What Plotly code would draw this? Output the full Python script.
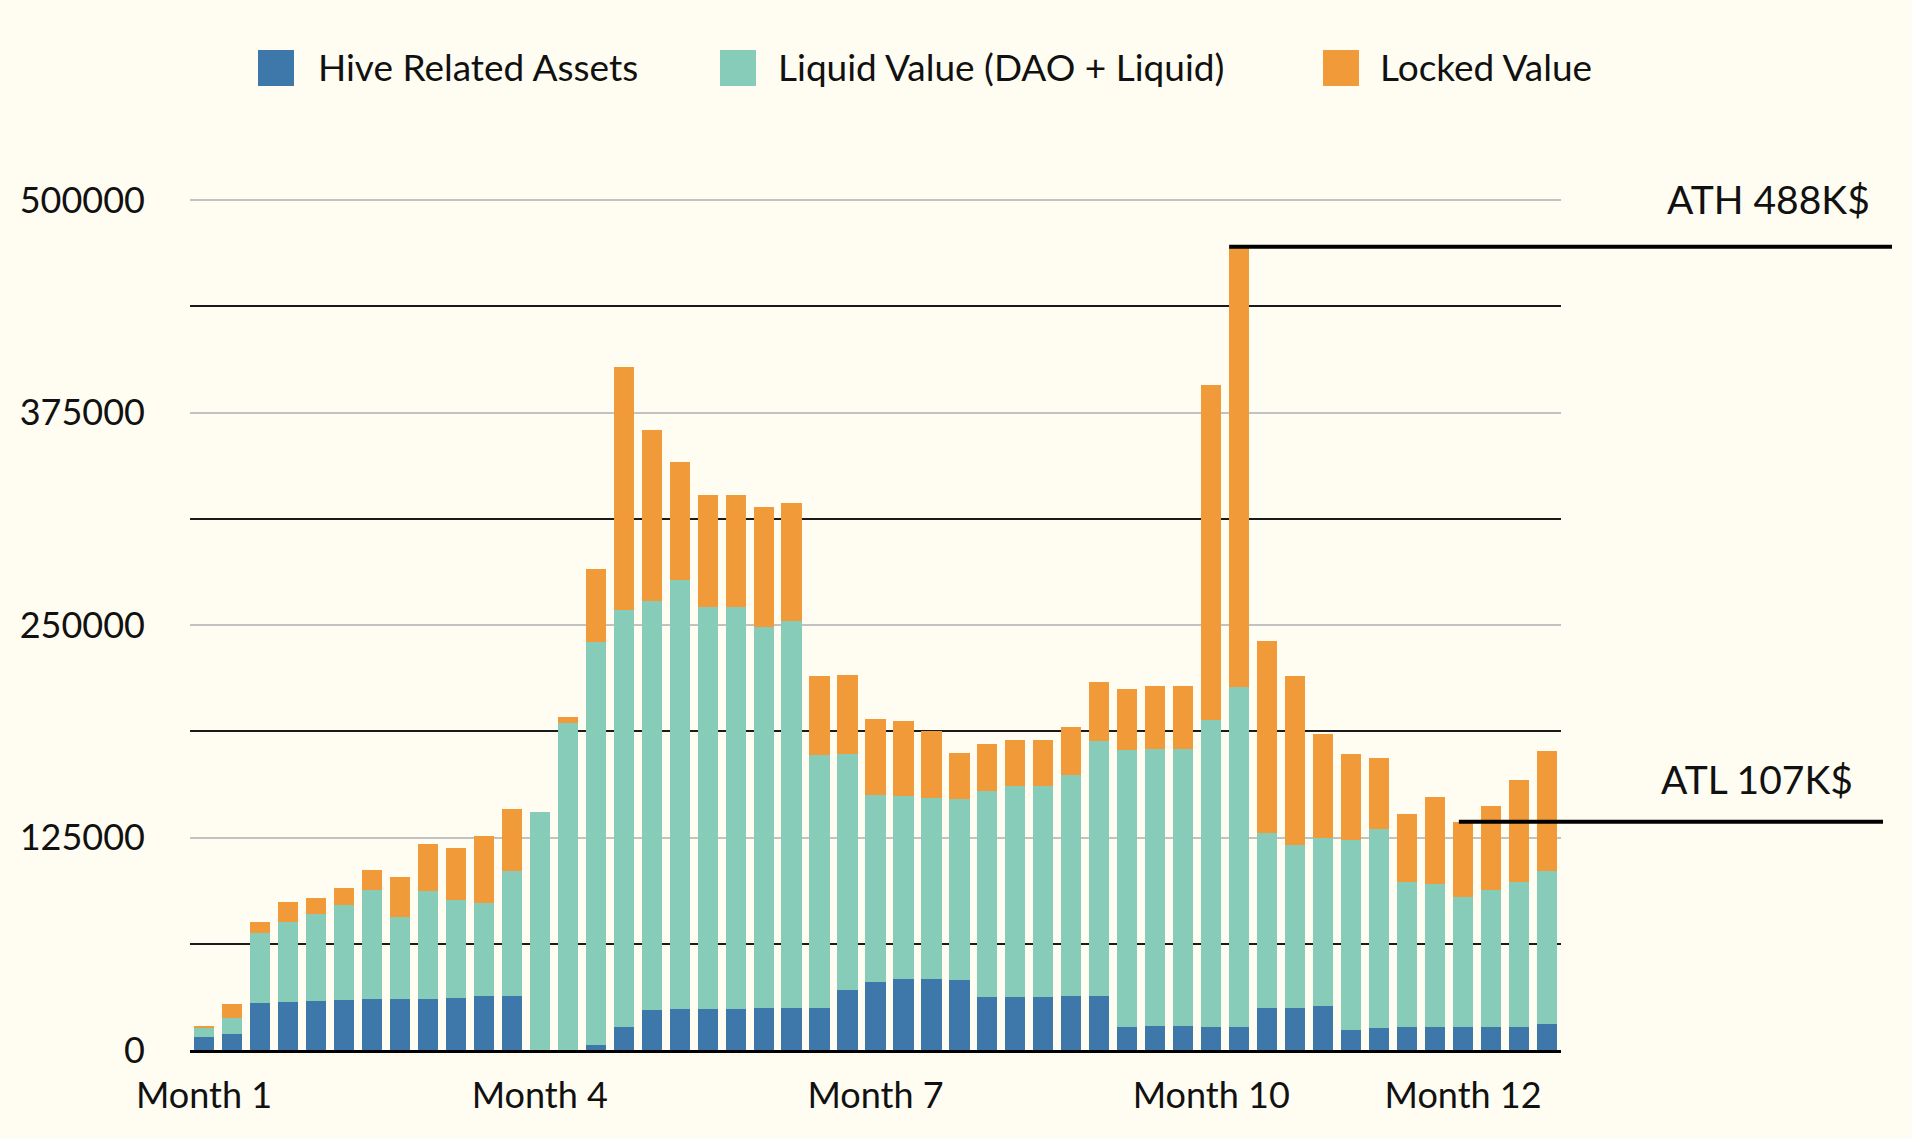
import plotly.graph_objects as go

# ---------------- data ----------------
series_names = ["Hive Related Assets", "Liquid Value (DAO + Liquid)", "Locked Value"]
series_colors = ["#3e78ab", "#86ccb9", "#f09a3a"]

week_index = list(range(49))

hive_assets = [7500, 9400, 27600, 28100, 28700, 29200, 30000, 30000, 30000, 30600,
               31600, 31600, 0, 0, 2700, 13500, 23500, 24100, 24100, 24100,
               24600, 24600, 24600, 35200, 40000, 41700, 41700, 41100, 31100, 31100,
               31100, 31600, 31600, 13500, 14100, 14100, 13500, 13500, 24600, 24600,
               25700, 11600, 13000, 13500, 13500, 13500, 13500, 13500, 15100]

liquid_value = [5400, 9300, 41100, 47100, 51100, 56000, 64400, 48200, 63300, 57900,
                54700, 73600, 140100, 192600, 237200, 245600, 240800, 252600, 236700, 236700,
                224500, 227500, 148800, 138700, 110100, 107900, 106300, 106300, 121500, 124400,
                124400, 130400, 149900, 163100, 163100, 163100, 180500, 200200, 103300, 95800,
                99000, 112000, 117100, 85200, 84200, 76600, 80400, 85200, 90100]

locked_value = [1200, 8300, 6500, 11900, 9700, 10000, 11600, 23500, 27900, 30500,
                39800, 36500, 0, 3000, 43300, 142600, 100300, 69000, 65400, 65400,
                70100, 69500, 46800, 46800, 44700, 44100, 39700, 27300, 27600, 27100,
                27100, 28200, 35200, 36000, 37000, 37000, 197100, 258800, 112800, 99800,
                61400, 50600, 41900, 40300, 51300, 44100, 49700, 60400, 70900]

month_labels = ["Month 1", "Month 4", "Month 7", "Month 10", "Month 12"]
month_positions = [0, 12, 24, 36, 45]

y_tick_values = [0, 125000, 250000, 375000, 500000]

ath_label = "ATH 488K$"
atl_label = "ATL 107K$"
ath_index = 37
atl_index = 45

# ---------------- layout constants ----------------
W, H = 1912, 1138
PL, PR, PT, PB = 190, 1561, 198, 1050
BG = "#fffdf1"
FONT = "Lato"
BARGAP = 0.28


def px_x(px):
    return (px - PL) / (PR - PL)


def px_y(py):
    return (PB - py) / (PB - PT)


y_max = 500000 * (PB - PT) / 850.0

totals = [a + b + c for a, b, c in zip(hive_assets, liquid_value, locked_value)]

fig = go.Figure()
for name, vals, col in zip(series_names, [hive_assets, liquid_value, locked_value], series_colors):
    fig.add_trace(go.Bar(x=week_index, y=vals, name=name, marker=dict(color=col, line=dict(width=0)),
                         showlegend=False))

shapes = []
annotations = []

# manual legend (large square swatches)
legend_sq_left = [258, 720, 1323]
legend_txt_left = [318, 778, 1380]
for i, name in enumerate(series_names):
    shapes.append(dict(type="rect", xref="paper", yref="paper",
                       x0=px_x(legend_sq_left[i]), x1=px_x(legend_sq_left[i] + 36),
                       y0=px_y(86), y1=px_y(50),
                       fillcolor=series_colors[i], line=dict(width=0)))
    annotations.append(dict(xref="paper", yref="paper", x=px_x(legend_txt_left[i] - 2), y=px_y(67),
                            xanchor="left", yanchor="middle", showarrow=False,
                            text=name, font=dict(family=FONT, size=37, color="#111111")))

# ATH / ATL marker lines
n = len(week_index)
half_bar = (1 - BARGAP) / 2
shapes.append(dict(type="line", xref="paper", yref="y",
                   x0=(ath_index + 0.5 - half_bar) / n, x1=px_x(1892),
                   y0=totals[ath_index], y1=totals[ath_index],
                   line=dict(color="#000000", width=4)))
shapes.append(dict(type="line", xref="paper", yref="y",
                   x0=(atl_index + 0.5 - 0.15) / n, x1=px_x(1883),
                   y0=totals[atl_index], y1=totals[atl_index],
                   line=dict(color="#000000", width=4)))
annotations.append(dict(xref="paper", yref="paper", x=px_x(1872), y=px_y(199),
                        xanchor="right", yanchor="middle", showarrow=False, text=ath_label,
                        font=dict(family=FONT, size=39, color="#111111")))
annotations.append(dict(xref="paper", yref="paper", x=px_x(1855), y=px_y(779),
                        xanchor="right", yanchor="middle", showarrow=False, text=atl_label,
                        font=dict(family=FONT, size=39, color="#111111")))

fig.update_layout(
    width=W, height=H, autosize=False,
    margin=dict(l=PL, r=W - PR, t=PT, b=H - PB, pad=0),
    paper_bgcolor=BG, plot_bgcolor=BG,
    barmode="stack", bargap=BARGAP,
    font=dict(family=FONT, size=36, color="#111111"),
    shapes=shapes, annotations=annotations,
    showlegend=False,
    xaxis=dict(range=[-0.5, n - 0.5], tickmode="array", tickvals=month_positions, ticktext=month_labels,
               showgrid=False, zeroline=False, showline=True, linecolor="#000000", linewidth=3,
               ticks="", ticklabelstandoff=12, tickfont=dict(family=FONT, size=36, color="#111111")),
    yaxis=dict(range=[0, y_max], tickmode="array", tickvals=y_tick_values,
               ticktext=[str(v) for v in y_tick_values],
               showgrid=True, gridcolor="#c2c2c2", gridwidth=1.5,
               minor=dict(dtick=62500, tick0=0, showgrid=True, gridcolor="#1a1a1a", gridwidth=2, ticks=""),
               zeroline=False, showline=False, ticks="", ticklabelstandoff=44,
               tickfont=dict(family=FONT, size=36, color="#111111")),
)

fig.write_html("out.html", config={"displayModeBar": False},
               post_script="document.body.style.margin='0px';document.body.style.background='" + BG + "';")
